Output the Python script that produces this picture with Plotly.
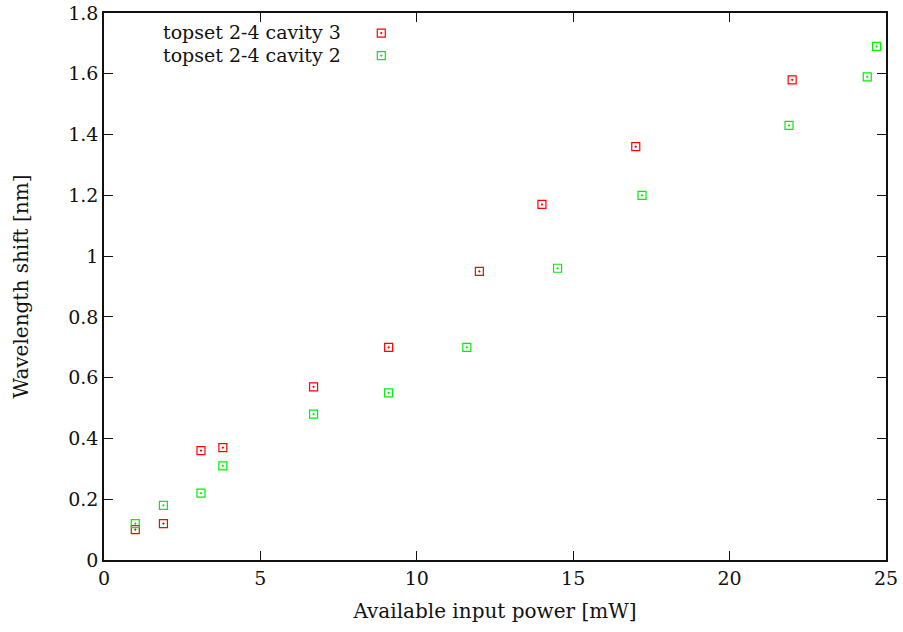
import plotly.graph_objects as go

# Data
cav3_x = [1.0, 1.9, 3.1, 3.8, 6.7, 9.1, 12.0, 14.0, 17.0, 22.0]
cav3_y = [0.10, 0.12, 0.36, 0.37, 0.57, 0.70, 0.95, 1.17, 1.36, 1.58]
cav2_x = [1.0, 1.9, 3.1, 3.8, 6.7, 9.1, 11.6, 14.5, 17.2, 21.9, 24.4, 24.7]
cav2_y = [0.12, 0.18, 0.22, 0.31, 0.48, 0.55, 0.70, 0.96, 1.20, 1.43, 1.59, 1.69]
names = ["topset 2-4 cavity 3", "topset 2-4 cavity 2"]
colors = ["#ff0000", "#00ee00"]
x_ticks = [0, 5, 10, 15, 20, 25]
y_ticks = [0, 0.2, 0.4, 0.6, 0.8, 1, 1.2, 1.4, 1.6, 1.8]

FONT = "DejaVu Serif"
FS = 19
TFS = 19
fig = go.Figure()
for xs, ys, nm, c in [(cav3_x, cav3_y, names[0], colors[0]), (cav2_x, cav2_y, names[1], colors[1])]:
    fig.add_trace(go.Scatter(
        x=xs, y=ys, mode="markers", name=" ",
        marker=dict(symbol="square-open-dot", size=8, color=c, line=dict(width=1.2, color=c)),
    ))

# legend labels drawn as right-aligned text left of the legend samples
for i, nm in enumerate(names):
    fig.add_annotation(text=nm, xref="paper", yref="paper", x=0.305, y=0.9653 - i * 0.042,
                       xanchor="right", yanchor="middle", showarrow=False,
                       font=dict(family=FONT, size=FS, color="#111"))

axis_common = dict(
    showgrid=False, zeroline=False, showline=True, linecolor="#111", linewidth=1.5,
    mirror="ticks", ticks="inside", ticklen=9, tickwidth=1.2, tickcolor="#111",
    tickfont=dict(family=FONT, size=TFS, color="#111"), automargin=False,
    ticklabeloverflow="allow",
)
fig.update_xaxes(range=[0, 25], tickvals=x_ticks, ticktext=[str(v) for v in x_ticks],
                 title=dict(text="Available input power [mW]", font=dict(family=FONT, size=20, color="#111"), standoff=16),
                 **axis_common)
fig.update_yaxes(range=[0, 1.8], tickvals=y_ticks, ticktext=[("%g" % v) for v in y_ticks],
                 title=dict(text="Wavelength shift [nm]", font=dict(family=FONT, size=20, color="#111"), standoff=34),
                 **axis_common)
fig.update_layout(
    width=903, height=632, plot_bgcolor="white", paper_bgcolor="white",
    margin=dict(l=104, r=17, t=13, b=72),
    showlegend=True,
    legend=dict(x=0.329, y=0.993, xanchor="left", yanchor="top", bgcolor="rgba(0,0,0,0)",
                font=dict(family=FONT, size=15), tracegroupgap=0, itemwidth=30,
                itemsizing="trace"),
)
fig.write_html("out.html", config={"displayModeBar": False},
               post_script="document.body.style.margin='0';")
